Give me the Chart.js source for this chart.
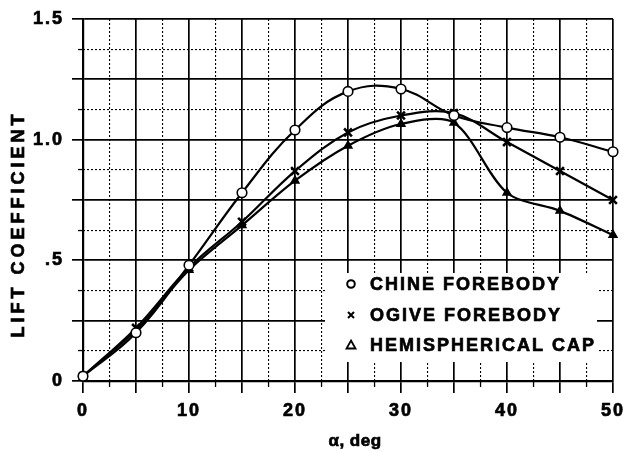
<!DOCTYPE html>
<html><head><meta charset="utf-8">
<script src="https://cdn.jsdelivr.net/npm/chart.js@4"></script>
<style>html,body{margin:0;padding:0;background:#fff;} canvas{display:block;}</style>
</head><body>
<canvas id="c" width="630" height="452"></canvas>
<script>
const alphaDeg = [0, 5, 10, 15, 20, 25, 30, 35, 40, 45, 50];
const chineForebody = [0.02, 0.20, 0.48, 0.78, 1.04, 1.20, 1.21, 1.10, 1.05, 1.01, 0.95];
const ogiveForebody = [0.02, 0.22, 0.47, 0.66, 0.87, 1.03, 1.10, 1.11, 0.99, 0.87, 0.75];
const hemisphericalCap = [0.02, 0.21, 0.46, 0.645, 0.83, 0.975, 1.065, 1.07, 0.78, 0.705, 0.605];
const seriesLabels = ['CHINE FOREBODY', 'OGIVE FOREBODY', 'HEMISPHERICAL CAP'];
const xTickValues = [0, 10, 20, 30, 40, 50];
const yTickValues = [0, 0.5, 1.0, 1.5];
const yTickLabels = ['0', '.5', '1.0', '1.5'];
const xTitle = 'α, deg';
const yTitle = 'LIFT COEFFICIENT';

const FONT = '"Liberation Sans", Arial, Helvetica, sans-serif';
Chart.defaults.font.family = FONT;
Chart.defaults.font.size = 18;
Chart.defaults.font.weight = 'bold';
Chart.defaults.color = '#000';

const toPts = ys => alphaDeg.map((x, i) => ({x: x, y: ys[i]}));
const minorColor = (c, major) => (c.tick && Math.abs(c.tick.value / major - Math.round(c.tick.value / major)) > 1e-6) ? '#000' : 'rgba(0,0,0,0)';

function boldText(ctx, text, x, y) {
  ctx.lineWidth = 0.7;
  ctx.strokeText(text, x, y);
  ctx.fillText(text, x, y);
}

const decor = {
  id: 'decor',
  beforeDraw(chart) { chart.ctx.letterSpacing = '2px'; },
  beforeDatasetsDraw(chart) {
    const {ctx, chartArea: a} = chart;
    ctx.save();
    ctx.fillStyle = '#fff';
    ctx.fillRect(a.left + 242, a.bottom - 108, 272, 89);
    ctx.restore();
  },
  afterDraw(chart) {
    const {ctx, chartArea: a} = chart;
    ctx.save();
    ctx.fillStyle = '#000';
    ctx.strokeStyle = '#000';
    // legend
    const mx = a.left + 268, tx = a.left + 287;
    const rows = [a.bottom - 97, a.bottom - 66, a.bottom - 36];
    ctx.font = 'bold 18px ' + FONT;
    ctx.letterSpacing = '2px';
    ctx.textAlign = 'left';
    ctx.textBaseline = 'middle';
    seriesLabels.forEach((lab, i) => {
      const y = rows[i];
      ctx.lineWidth = 2;
      ctx.beginPath();
      if (i === 0) { ctx.arc(mx, y, 3.8, 0, Math.PI * 2); }
      else if (i === 1) { ctx.moveTo(mx - 3, y - 3); ctx.lineTo(mx + 3, y + 3); ctx.moveTo(mx + 3, y - 3); ctx.lineTo(mx - 3, y + 3); }
      else { ctx.lineWidth = 1.8; ctx.moveTo(mx, y - 4.5); ctx.lineTo(mx + 4.5, y + 3.5); ctx.lineTo(mx - 4.5, y + 3.5); ctx.closePath(); }
      ctx.stroke();
      boldText(ctx, lab, tx, y + 1);
    });
    // axis titles
    ctx.textAlign = 'center';
    ctx.letterSpacing = '0.5px';
    ctx.font = 'bold 17px ' + FONT;
    boldText(ctx, xTitle, a.left + 272, 441);
    ctx.save();
    ctx.translate(19, a.top + 205);
    ctx.rotate(-Math.PI / 2);
    ctx.letterSpacing = '4px';
    ctx.font = 'bold 18px ' + FONT;
    boldText(ctx, yTitle, 0, 0);
    ctx.restore();
    ctx.restore();
  }
};

new Chart(document.getElementById('c'), {
  type: 'line',
  data: {
    datasets: [
      { label: seriesLabels[0], data: toPts(chineForebody), borderColor: '#000', borderWidth: 2.2, tension: 0.4,
        pointStyle: 'circle', pointRadius: 4.8, pointBackgroundColor: '#fff', pointBorderColor: '#000', pointBorderWidth: 1.6, clip: false },
      { label: seriesLabels[1], data: toPts(ogiveForebody), borderColor: '#000', borderWidth: 2.2, tension: 0.35,
        pointStyle: 'crossRot', pointRadius: 5.5, pointBorderColor: '#000', pointBorderWidth: 2.6, clip: false },
      { label: seriesLabels[2], data: toPts(hemisphericalCap), borderColor: '#000', borderWidth: 2.2, tension: 0.3,
        pointStyle: 'triangle', pointRadius: 4.5, pointBackgroundColor: '#000', pointBorderColor: '#000', pointBorderWidth: 1.5, clip: false }
    ]
  },
  options: {
    responsive: false,
    animation: false,
    devicePixelRatio: 1,
    layout: { padding: { top: 19, right: 15, left: 0, bottom: 0 } },
    plugins: { legend: { display: false }, tooltip: { enabled: false } },
    scales: {
      x: {
        type: 'linear', position: 'bottom', min: 0, max: 50, weight: 1,
        ticks: { stepSize: 5, padding: 7, autoSkip: false, maxRotation: 0, textStrokeColor: '#000', textStrokeWidth: 0.7,
          callback: v => xTickValues.includes(v) ? String(v) : '' },
        grid: { color: '#000', lineWidth: 1.7, tickLength: 12, tickWidth: 1.7 },
        border: { display: true, color: '#000', width: 2.2 },
        afterFit: s => { s.height = 71; }
      },
      xMinor: {
        type: 'linear', position: 'bottom', min: 0, max: 50, weight: 0,
        ticks: { stepSize: 2.5, display: false },
        grid: { color: c => minorColor(c, 5), lineWidth: 1.1, tickLength: 6, tickWidth: 1.3 },
        border: { display: false, dash: [2, 2] },
        afterFit: s => { s.height = 0; }
      },
      y: {
        type: 'linear', position: 'left', min: 0, max: 1.5, weight: 1,
        ticks: { stepSize: 0.25, padding: 8, autoSkip: false, textStrokeColor: '#000', textStrokeWidth: 0.7,
          callback: v => { const i = yTickValues.indexOf(v); return i >= 0 ? yTickLabels[i] : ''; } },
        grid: { color: '#000', lineWidth: 1.7, tickLength: 11, tickWidth: 1.7 },
        border: { display: true, color: '#000', width: 2.2 },
        afterFit: s => { s.width = 83; }
      },
      yMinor: {
        type: 'linear', position: 'left', min: 0, max: 1.5, weight: 0,
        ticks: { stepSize: 0.125, display: false },
        grid: { color: c => minorColor(c, 0.25), lineWidth: 1.1, tickLength: 5, tickWidth: 1.3 },
        border: { display: false, dash: [2, 2] },
        afterFit: s => { s.width = 0; }
      }
    }
  },
  plugins: [decor]
});
</script>
</body></html>
